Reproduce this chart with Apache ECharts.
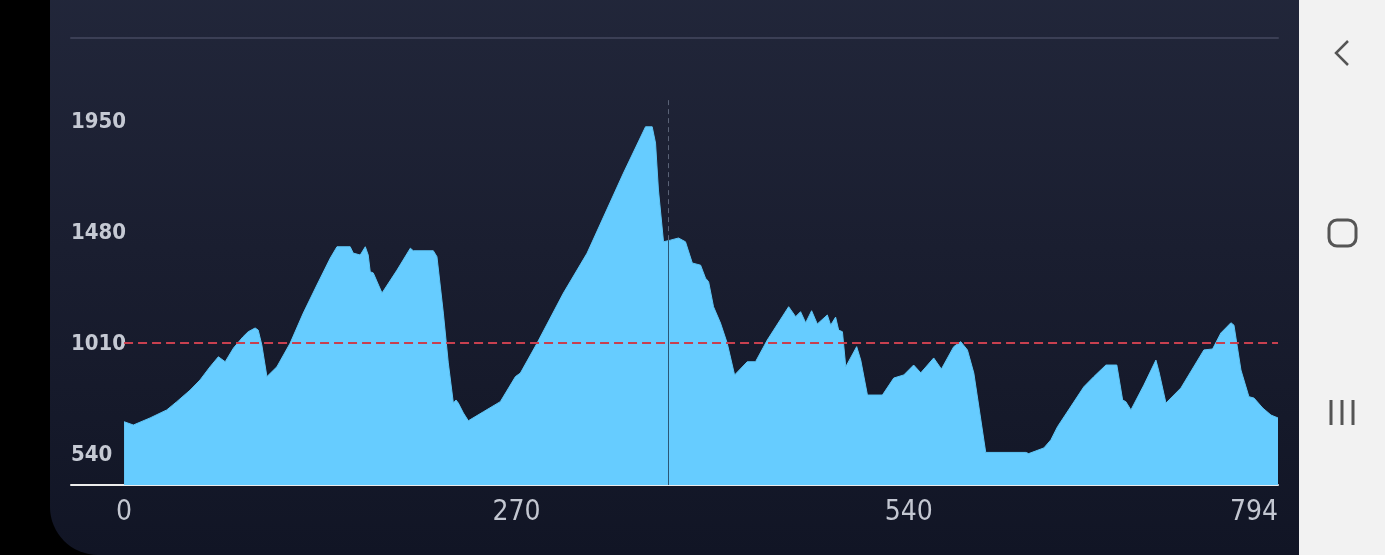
<!DOCTYPE html>
<html><head><meta charset="utf-8">
<script src="https://cdn.jsdelivr.net/npm/echarts@6/dist/echarts.min.js"></script>
<style>html,body{margin:0;padding:0;background:#000;}#c{width:1385px;height:555px;}</style>
</head><body><div id="c"></div>
<script>
// Elevation profile data (distance along route, elevation in m)
const distance = [0,6.4,17.9,29.4,36.3,45.5,52.3,59.2,64.9,69.6,75.3,81.9,85.4,90.2,92.3,94.8,98.3,105.2,114.3,123.3,132.7,141.9,146.5,155.6,157.7,162.5,166,168,169.4,171.5,177.5,187.8,197,199,212.8,215.3,219.7,223.1,226.6,228.4,230,233.5,236.9,247.2,258.9,269.3,272.7,284.2,302.3,318.6,343.6,358.8,363.4,365.7,367.7,371.2,376,381.5,386.3,391,396.7,400.1,402.2,405.6,410.4,415,420.1,428.8,434.5,442.6,457.3,462.1,465.5,469,473.1,477,483.9,486.2,489.6,491.7,494.3,496.6,504.1,506.9,511.5,521.8,529.6,536.5,543.3,548.2,557.1,562.4,570.9,575.7,580.3,584.7,592.9,620.5,622.5,632.9,637.7,642.3,660.4,667.3,675.6,683.1,687.1,689.3,692.8,701.7,710,712.1,716.9,727.2,743,749,754.7,761.6,763.7,768.5,774,777.5,783.5,789.2,794];
const elevation = [681,667,697,731,766,815,858,914,956,935,993,1041,1062,1078,1069,1006,872,914,1014,1141,1260,1374,1422,1422,1395,1387,1422,1387,1316,1311,1226,1323,1416,1405,1405,1380,1141,930,760,773,760,718,685,723,766,872,887,1014,1226,1395,1734,1930,1930,1861,1662,1443,1450,1459,1443,1353,1344,1289,1274,1168,1099,1014,879,935,935,1027,1168,1126,1147,1100,1151,1095,1133,1090,1124,1069,1062,914,999,942,794,794,866,879,921,888,951,904,999,1020,985,887,551,551,546,570,604,660,829,872,921,921,773,766,731,836,942,893,760,824,985,989,1057,1100,1090,900,787,781,739,709,697];
const xTickLabels = [0, 270, 540, 794];
const yTickLabels = [540, 1010, 1480, 1950];
const averageElevation = 1014;
const cursorDistance = 374.6;
const cursorElevation = 1450;
const cursorTop = 2043;

const points = distance.map((d, i) => [d, elevation[i]]);
const condensed = "'DejaVu Sans Condensed','Roboto',sans-serif";

const chart = echarts.init(document.getElementById('c'), null, {renderer: 'canvas'});
chart.setOption({
  animation: false,
  backgroundColor: 'transparent',
  graphic: [
    {type: 'rect', z: -100, silent: true, shape: {x: 0, y: 0, width: 1385, height: 555}, style: {fill: '#000'}},
    {type: 'rect', z: -99, silent: true, shape: {x: 50, y: -60, width: 1249, height: 615, r: [0, 0, 0, 48]},
      style: {fill: new echarts.graphic.LinearGradient(0, 0, 0, 1, [
        {offset: 0, color: '#23283c'}, {offset: 0.5, color: '#1a1e30'}, {offset: 1, color: '#111525'}])}},
    {type: 'rect', z: -99, silent: true, shape: {x: 1299, y: 0, width: 86, height: 555}, style: {fill: '#f2f2f2'}},
    {type: 'polyline', z: -98, silent: true, shape: {points: [[1348, 41], [1336, 53], [1348, 65]]},
      style: {stroke: '#555', lineWidth: 2.5, fill: null}},
    {type: 'rect', z: -98, silent: true, shape: {x: 1329, y: 220, width: 27, height: 26, r: 8},
      style: {stroke: '#555', lineWidth: 3, fill: null}},
    {type: 'line', z: -98, silent: true, shape: {x1: 1331, y1: 400, x2: 1331, y2: 425}, style: {stroke: '#555', lineWidth: 3}},
    {type: 'line', z: -98, silent: true, shape: {x1: 1342, y1: 400, x2: 1342, y2: 425}, style: {stroke: '#555', lineWidth: 3}},
    {type: 'line', z: -98, silent: true, shape: {x1: 1353, y1: 400, x2: 1353, y2: 425}, style: {stroke: '#555', lineWidth: 3}}
  ],
  grid: {left: 71, right: 107, top: 38, bottom: 70, containLabel: false},
  xAxis: [
    {type: 'value', min: -36.5, max: 794, position: 'bottom',
      axisLine: {show: true, lineStyle: {color: '#ececec', width: 2}},
      axisTick: {show: false}, splitLine: {show: false},
      axisLabel: {customValues: xTickLabels, color: '#c3c7d1', fontSize: 28, fontFamily: condensed,
        margin: 14, alignMaxLabel: 'right', formatter: v => String(v)}},
    {type: 'value', min: -36.5, max: 794, position: 'top',
      axisLine: {show: true, lineStyle: {color: '#3b3f55', width: 2}},
      axisTick: {show: false}, splitLine: {show: false}, axisLabel: {show: false}}
  ],
  yAxis: {type: 'value', min: 413, max: 2306,
    axisLine: {show: false}, axisTick: {show: false}, splitLine: {show: false},
    axisLabel: {customValues: yTickLabels, inside: true, margin: 0, color: '#c5c9d3', fontSize: 22,
      fontWeight: 'bold', fontFamily: condensed, formatter: v => String(v)}},
  series: [{
    type: 'line', data: points, showSymbol: false, symbol: 'none',
    lineStyle: {color: '#5fc6f7', width: 1}, areaStyle: {color: '#66ccff', opacity: 1},
    markLine: {silent: true, symbol: 'none', label: {show: false}, animation: false,
      data: [
        [{coord: [0, averageElevation], lineStyle: {color: '#c8404f', width: 2, type: [9, 5]}}, {coord: [794, averageElevation]}],
        [{coord: [cursorDistance, 413], lineStyle: {color: '#2b5775', width: 1, type: 'solid'}}, {coord: [cursorDistance, cursorElevation]}],
        [{coord: [cursorDistance, cursorElevation], lineStyle: {color: '#5a6276', width: 1, type: [5, 4]}}, {coord: [cursorDistance, cursorTop]}]
      ]}
  }]
});
</script></body></html>
